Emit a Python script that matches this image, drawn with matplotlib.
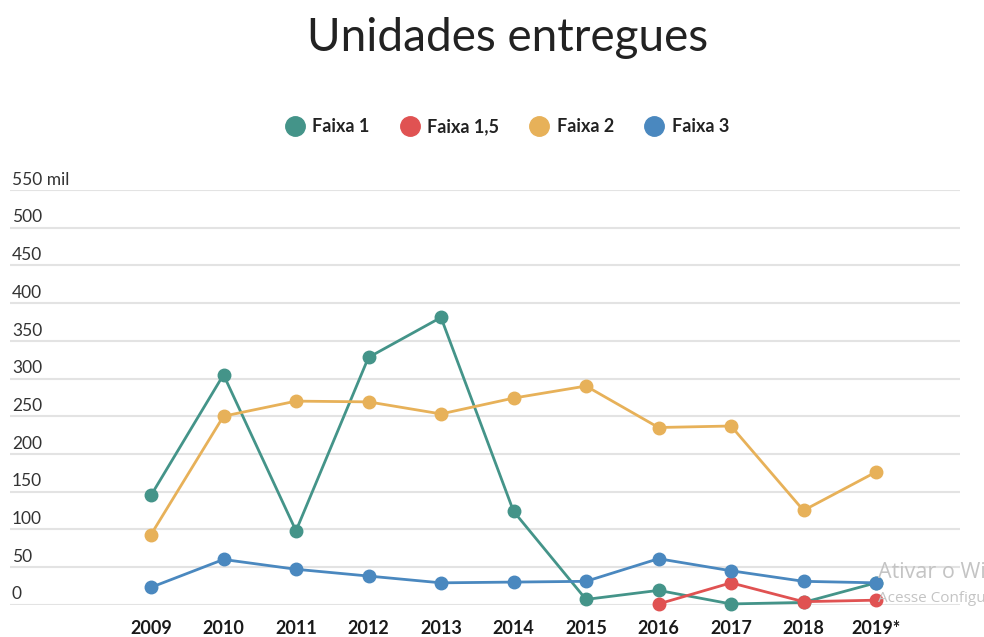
import numpy as np
import matplotlib
matplotlib.use("Agg")
import matplotlib.pyplot as plt
from matplotlib.lines import Line2D
from matplotlib.transforms import blended_transform_factory

years = ["2009", "2010", "2011", "2012", "2013", "2014", "2015", "2016", "2017", "2018", "2019*"]
faixa1 = [145, 305, 98, 328, 381, 124, 7, 19, 1, 3, 29]
faixa15 = [np.nan, np.nan, np.nan, np.nan, np.nan, np.nan, np.nan, 1, 29, 4, 6]
faixa2 = [93, 250, 270, 269, 253, 274, 290, 235, 237, 125, 176]
faixa3 = [23, 60, 47, 38, 29, 30, 31, 61, 45, 31, 29]
yticks = [0, 50, 100, 150, 200, 250, 300, 350, 400, 450, 500, 550]
ytick_labels = ["0", "50", "100", "150", "200", "250", "300", "350", "400", "450", "500", "550 mil"]

series = [
    ("Faixa 1", faixa1, "#449489"),
    ("Faixa 1,5", faixa15, "#e05252"),
    ("Faixa 2", faixa2, "#e7b159"),
    ("Faixa 3", faixa3, "#4a88bf"),
]
draw_order = [0, 2, 1, 3]

W, H = 984, 637
fig = plt.figure(figsize=(W / 100, H / 100), dpi=100)
fig.patch.set_facecolor("white")

x0, x1 = 10, 960
y0, y1 = 604.7, 190
ax = fig.add_axes([x0 / W, (H - y0) / H, (x1 - x0) / W, (y0 - y1) / H])
ax.set_xlim((x0 - 151) / 72.5, (x1 - 151) / 72.5)
ax.set_ylim(0, 550)
for s in ax.spines.values():
    s.set_visible(False)
ax.set_yticks([])
ax.set_xticks([])

for v in yticks:
    ax.axhline(v, color="#e3e3e3", lw=1.5, zorder=0)

trans = blended_transform_factory(ax.transAxes, ax.transData)
for v, lab in zip(yticks, ytick_labels):
    ax.text(2 / 950, v + 3, lab, transform=trans, ha="left", va="bottom",
            fontsize=12.5, family="Lato", color="#333333")

xs = np.arange(len(years))
for i in draw_order:
    name, vals, col = series[i]
    ax.plot(xs, vals, color=col, lw=2, marker="o", markersize=9,
            clip_on=False, zorder=3 + i, solid_capstyle="round")

for x, lab in zip(xs, years):
    ax.text(x, -31, lab, ha="center", va="center", fontsize=13,
            fontweight="bold", family="Lato",
            color="#1a1a1a", transform=ax.transData, clip_on=False)

fig.text(508 / W, 1 - 38 / H, "Unidades entregues", ha="center", va="center",
         fontsize=33, family="Lato", color="#222222")

handles = [Line2D([0], [0], marker="o", color="none", markerfacecolor=c,
                  markeredgecolor=c, markersize=14) for _, _, c in series]
leg = fig.legend(handles, [s[0] for s in series], loc="center",
                 bbox_to_anchor=(505 / W, 1 - 127 / H), ncol=4, frameon=False,
                 handletextpad=0.2, columnspacing=1.5, handlelength=1.5,
                 prop={"family": "Lato", "weight": "bold", "size": 13})
for t in leg.get_texts():
    t.set_color("#222222")

fig.text(878 / W, 1 - 573 / H, "Ativar o Wi", ha="left", va="center",
         fontsize=15.5, family="Open Sans", color="#c4c4c4")
fig.text(878 / W, 1 - 598 / H, "Acesse Configu",
         ha="left", va="center", fontsize=11, family="Open Sans", color="#c4c4c4")

fig.savefig("out.png", dpi=100, facecolor="white")
